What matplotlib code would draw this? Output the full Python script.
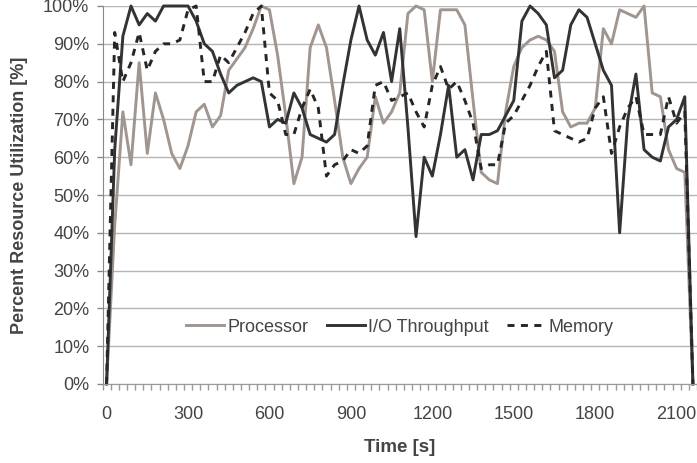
import numpy as np
import matplotlib.pyplot as plt

# one sample every 30 s
time_s = list(range(0, 2161, 30))

processor = [0, 42, 72, 58, 85, 61, 77, 70, 61, 57,
             63, 72, 74, 68, 71, 83, 86, 89, 94, 100,
             99, 87, 71, 53, 60, 89, 95, 89, 75, 60,
             53, 57, 60, 76, 69, 72, 77, 98, 100, 99,
             80, 99, 99, 99, 95, 75, 56, 54, 53, 72,
             84, 89, 91, 92, 91, 88, 72, 68, 69, 69,
             73, 94, 90, 99, 98, 97, 100, 77, 76, 62,
             57, 56, 0]

io_throughput = [0, 62, 92, 100, 95, 98, 96, 100, 100, 100,
                 100, 96, 90, 88, 82, 77, 79, 80, 81, 80,
                 68, 70, 69, 77, 73, 66, 65, 64, 66, 79,
                 91, 100, 91, 87, 93, 80, 94, 68, 39, 60,
                 55, 66, 79, 60, 62, 54, 66, 66, 67, 71,
                 75, 96, 100, 98, 95, 81, 83, 95, 99, 97,
                 90, 83, 79, 40, 70, 82, 62, 60, 59, 68,
                 70, 76, 0]

memory = [0, 93, 80, 85, 93, 83, 88, 90, 90, 91,
          99, 100, 80, 80, 87, 85, 89, 93, 98, 100,
          77, 75, 66, 66, 73, 78, 73, 55, 58, 59,
          62, 61, 63, 79, 80, 75, 76, 77, 72, 68,
          79, 84, 78, 80, 75, 69, 57, 58, 58, 69,
          71, 75, 79, 84, 88, 67, 66, 65, 64, 65,
          73, 76, 61, 68, 73, 76, 66, 66, 66, 76,
          69, 72, 0]

plt.rcParams['font.family'] = ['Liberation Sans', 'DejaVu Sans']
txt_col = '#444444'

fig = plt.figure(figsize=(6.97, 4.63), dpi=100)
ax = fig.add_axes([102.5 / 697, 79 / 463, 594.5 / 697, 378 / 463])

ax.plot(time_s, processor, color='#a0958f', lw=2.1, label='Processor', clip_on=False)
ax.plot(time_s, io_throughput, color='#333333', lw=2.1, label='I/O Throughput', clip_on=False)
ax.plot(time_s, memory, color='#262626', lw=2.1, dashes=(2.4, 2.2), label='Memory', clip_on=False)

ax.set_xlim(-15, 2175)
ax.set_ylim(0, 100)

ax.set_xticks(range(0, 2101, 300))
ax.set_xticks(np.arange(-15, 2176, 30), minor=True)
ax.tick_params(axis='x', which='major', length=0, pad=16, labelsize=13, labelcolor=txt_col)
ax.tick_params(axis='x', which='minor', length=4.5, width=1, color='#999999')

ax.set_yticks(range(0, 101, 10))
ax.set_yticklabels([f'{v}%' for v in range(0, 101, 10)])
ax.tick_params(axis='y', length=4.5, width=1, color='#888888', pad=5,
               labelsize=13, labelcolor=txt_col)

ax.yaxis.grid(True, color='#b5b5b5', lw=1)
ax.set_axisbelow(True)

for s in ['top', 'right']:
    ax.spines[s].set_visible(False)
ax.spines['left'].set_color('#888888')
ax.spines['bottom'].set_color('#999999')

ax.set_xlabel('Time [s]', fontsize=13.5, fontweight='bold', color=txt_col)
ax.xaxis.set_label_coords(0.5, -0.145)
ax.set_ylabel('Percent Resource Utilization [%]', fontsize=13, fontweight='bold', color=txt_col)
ax.yaxis.set_label_coords(-0.125, 0.5)

leg = ax.legend(loc='center', bbox_to_anchor=(0.5, 0.15), ncol=3, frameon=True,
                facecolor='white', edgecolor='none', framealpha=1, fancybox=False,
                fontsize=13, handlelength=2.1, handletextpad=0.2, columnspacing=1.0,
                borderpad=0.3)
for t in leg.get_texts():
    t.set_color(txt_col)

fig.savefig('out.png', dpi=100)
